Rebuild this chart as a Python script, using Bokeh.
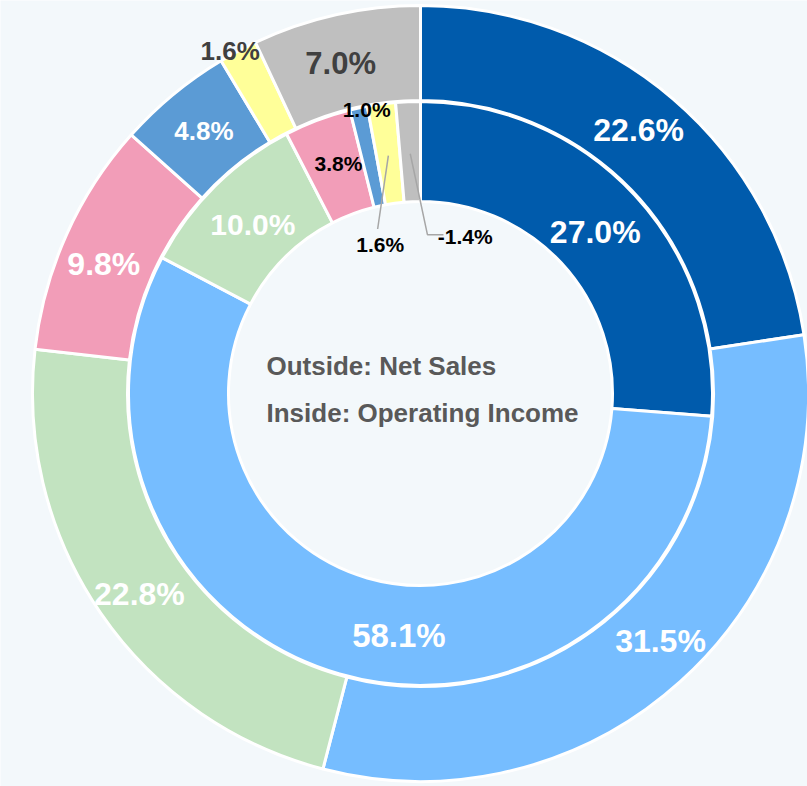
import numpy as np
from bokeh.plotting import figure
from bokeh.models import Range1d, ColumnDataSource
from bokeh.core.properties import value
from bokeh.embed import file_html
from bokeh.resources import INLINE

# ---- data ----
segments = ["Segment A", "Segment B", "Segment C", "Segment D", "Segment E", "Segment F", "Other"]
net_sales_pct = [22.6, 31.5, 22.8, 9.8, 4.8, 1.6, 7.0]
operating_income_pct = [27.0, 58.1, 10.0, 3.8, 1.0, 1.6, -1.4]
colors = ["#005BAC", "#76BDFF", "#C2E3C0", "#F29DB8", "#5B9BD5", "#FFFF99", "#BFBFBF"]
center_lines = ["Outside: Net Sales", "Inside: Operating Income"]

# ---- layout / style ----
W, H = 807, 786
CX, CY = 420, 393
R_OUT_OUT, R_OUT_IN = 388, 293
R_IN_OUT, R_IN_IN = 292, 192
BG = "#F3F8FB"
FONT = value("Liberation Sans")

# label placement tweaks (radius, clockwise angle nudge in degrees)
outer_lab_r = [342, 345, 345, 342, 340, 392, 340]
outer_lab_nudge = [-1, -2, -1, -2, 0, -1, -1]
outer_lab_color = ["white", "white", "white", "white", "white", "#404040", "#404040"]
outer_lab_size = ["32px", "32px", "32px", "32px", "26px", "26px", "31px"]

inner_lab_r = [238, 243, 238, 244, 289, 154, 163]
inner_lab_nudge = [0, -11, 0, 1, 1.5, -7.5, 18.4]
inner_lab_color = ["white", "white", "white", "black", "black", "black", "black"]
inner_lab_size = ["32px", "33px", "30px", "21px", "21px", "21px", "21px"]


def angles(vals):
    a = np.abs(np.asarray(vals, dtype=float))
    cum = np.concatenate([[0.0], np.cumsum(a / a.sum())])
    start = np.pi / 2 - 2 * np.pi * cum[:-1]
    end = np.pi / 2 - 2 * np.pi * cum[1:]
    return start, end, (start + end) / 2


def polar(r, ang):
    return CX + r * np.cos(ang), CY + r * np.sin(ang)


p = figure(width=W, height=H, x_range=Range1d(0, W), y_range=Range1d(0, H),
           x_axis_type=None, y_axis_type=None, output_backend="svg",
           toolbar_location=None, min_border=0)
p.grid.visible = False
p.outline_line_color = None
p.background_fill_color = BG
p.border_fill_color = BG

# rings
os_, oe_, om_ = angles(net_sales_pct)
is_, ie_, im_ = angles(operating_income_pct)

p.annular_wedge(x=CX, y=CY, inner_radius=R_OUT_IN, outer_radius=R_OUT_OUT,
                start_angle=os_, end_angle=oe_, direction="clock",
                fill_color=colors, line_color="white", line_width=3)
p.annular_wedge(x=CX, y=CY, inner_radius=R_IN_IN, outer_radius=R_IN_OUT,
                start_angle=is_, end_angle=ie_, direction="clock",
                fill_color=colors, line_color="white", line_width=3)

# leader lines for small inner slices
k1, k2 = 5, 6
a1 = np.deg2rad(90 - 345.4)
x0, y0 = polar(240, im_[k1])
x1, y1 = polar(170, a1)
p.line([x0, x1], [y0, y1], line_color="#A6A6A6", line_width=1.5)
x0, y0 = polar(240, im_[k2])
xe, ye = polar(159, np.deg2rad(90 - 2.5))
p.line([x0, xe, xe + 16], [y0, ye, ye], line_color="#A6A6A6", line_width=1.5)

# labels
def fmt(v):
    return f"{v:.1f}%"

ang_o = om_ - np.deg2rad(outer_lab_nudge)
lx, ly = polar(np.array(outer_lab_r), ang_o)
src_o = ColumnDataSource(dict(x=lx, y=ly, t=[fmt(v) for v in net_sales_pct],
                              c=outer_lab_color, s=outer_lab_size))
p.text(x="x", y="y", text="t", source=src_o, text_align="center", text_baseline="middle",
       text_font=FONT, text_font_style="bold", text_font_size="s", text_color="c")

ang_i = im_ - np.deg2rad(inner_lab_nudge)
lx, ly = polar(np.array(inner_lab_r), ang_i)
src_i = ColumnDataSource(dict(x=lx, y=ly, t=[fmt(v) for v in operating_income_pct],
                              c=inner_lab_color, s=inner_lab_size))
p.text(x="x", y="y", text="t", source=src_i, text_align="center", text_baseline="middle",
       text_font=FONT, text_font_style="bold", text_font_size="s", text_color="c")

# center legend text
p.text(x=[CX - 154, CX - 154], y=[CY + 28, CY - 19], text=center_lines,
       text_align="left", text_baseline="middle", text_font=FONT,
       text_font_style="bold", text_font_size="26px", text_color="#595959")

open("out.html", "w").write(file_html(p, INLINE))
